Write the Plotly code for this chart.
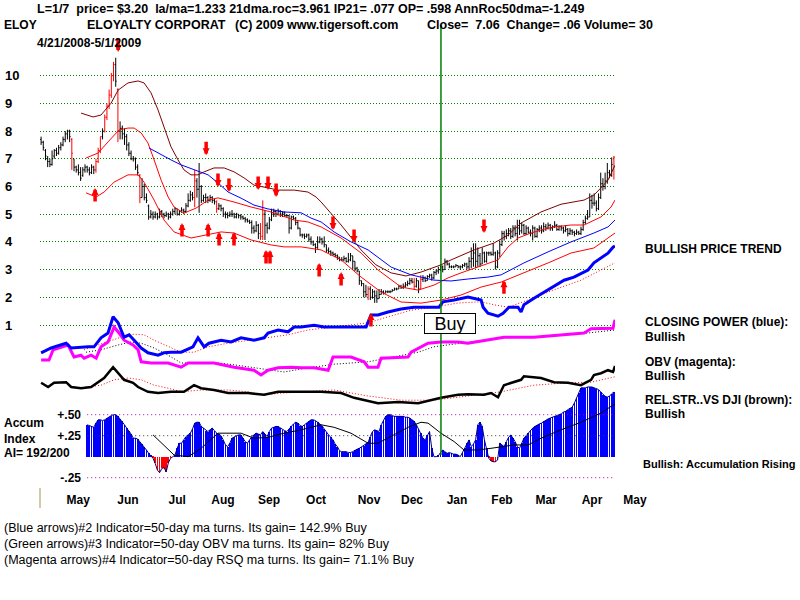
import plotly.graph_objects as go

# ---------------- DATA ----------------
# daily price bars, trading-day index 0 = 4/21/2008 ... last = 5/1/2009
opens = [7.7,7.6,7.3,7.0,6.9,6.8,7.1,7.3,7.2,7.4,
         7.5,7.7,7.9,8.0,7.7,7.0,6.7,6.6,6.5,6.4,
         6.6,6.7,6.6,6.5,6.7,6.6,6.9,7.3,7.8,8.0,
         8.5,8.9,9.3,10.0,10.4,9.5,8.0,8.1,7.9,7.8,
         7.5,7.2,7.0,7.0,6.7,6.4,5.6,6.0,5.6,5.3,
         4.9,5.0,4.9,5.0,4.9,5.1,5.0,4.95,5.0,4.9,
         5.0,5.1,5.2,5.0,5.1,5.15,5.1,5.3,5.5,5.7,
         5.6,6.2,5.9,6.0,5.5,5.6,5.6,5.5,5.6,5.5,
         5.45,5.2,5.3,5.2,5.0,5.0,4.95,5.0,5.0,4.9,
         5.0,4.95,4.9,4.85,4.8,4.75,4.7,4.5,4.4,4.6,
         4.3,4.2,5.0,4.6,4.5,4.8,5.0,5.1,5.0,5.1,
         5.0,5.05,4.95,4.95,4.5,4.9,4.85,4.7,4.5,4.25,
         4.25,4.2,4.25,4.1,4.0,3.9,3.8,4.0,4.1,4.0,
         3.9,3.7,3.65,3.6,3.55,3.5,3.45,3.35,3.35,3.4,
         3.3,3.35,3.5,3.3,3.05,2.95,2.6,2.5,2.2,2.1,
         2.3,2.0,2.2,2.05,1.95,2.1,2.2,2.15,2.2,2.2,
         2.2,2.25,2.3,2.3,2.4,2.35,2.4,2.45,2.5,2.6,
         2.55,2.4,2.6,2.3,2.65,2.7,2.6,2.75,2.8,2.7,
         2.9,2.95,3.0,3.1,3.0,3.3,3.2,3.1,3.1,3.1,
         3.15,3.1,3.1,3.15,3.2,3.1,3.3,3.4,3.6,3.3,
         3.5,3.2,3.6,3.3,3.6,3.6,3.55,3.6,3.1,3.6,
         3.9,4.3,4.2,4.3,4.4,4.2,4.5,4.3,4.5,4.4,
         4.6,4.3,4.5,4.35,4.3,4.5,4.2,4.45,4.5,4.4,
         4.55,4.5,4.6,4.5,4.55,4.6,4.45,4.55,4.5,4.4,
         4.45,4.3,4.4,4.35,4.3,4.35,4.3,4.45,4.7,4.85,
         4.9,5.5,5.4,5.4,5.2,5.6,6.1,6.0,6.2,6.5,
         6.4,7.0]
highs = [7.8,7.65,7.35,7.1,7.0,7.3,7.35,7.4,7.5,7.6,
         7.8,8.0,8.05,8.05,7.75,7.0,6.75,6.8,6.7,6.7,
         6.8,6.75,6.7,6.8,6.75,7.0,7.4,7.8,8.1,8.6,
         9.0,9.5,10.1,10.5,10.65,9.55,8.35,8.2,8.1,7.9,
         7.6,7.3,7.1,7.05,6.8,6.45,6.3,6.1,5.75,5.35,
         5.15,5.1,5.1,5.05,5.2,5.15,5.05,5.1,5.05,5.1,
         5.2,5.25,5.2,5.15,5.25,5.2,5.4,5.75,5.85,5.8,
         6.6,6.3,6.85,6.05,5.7,5.75,5.65,5.7,5.65,5.55,
         5.5,5.4,5.35,5.25,5.1,5.07,5.1,5.15,5.05,5.05,
         5.0,5.0,4.95,4.9,4.85,4.8,4.78,4.6,4.75,4.65,
         4.68,5.5,5.15,4.7,4.9,5.2,5.2,5.15,5.2,5.15,
         5.1,5.1,5.0,4.97,4.95,4.95,4.9,4.75,4.5,4.3,
         4.3,4.3,4.3,4.2,4.05,3.95,4.2,4.2,4.15,4.2,
         3.9,3.8,3.7,3.65,3.6,3.55,3.45,3.45,3.5,3.45,
         3.6,3.6,3.5,3.3,3.1,2.95,2.6,2.5,2.45,2.4,
         2.4,2.3,2.25,2.25,2.3,2.3,2.25,2.25,2.25,2.25,
         2.3,2.35,2.35,2.45,2.45,2.5,2.55,2.6,2.7,2.7,
         2.7,2.7,2.6,2.8,2.8,2.75,2.8,2.85,2.85,2.95,
         3.0,3.1,3.2,3.15,3.4,3.35,3.25,3.15,3.15,3.2,
         3.15,3.15,3.2,3.25,3.25,3.45,3.8,3.95,3.95,3.8,
         3.6,3.8,3.65,3.65,3.65,3.65,3.95,3.65,3.7,4.05,
         4.4,4.4,4.45,4.5,4.5,4.6,4.6,4.8,4.8,4.7,
         4.65,4.6,4.55,4.45,4.6,4.55,4.5,4.6,4.6,4.7,
         4.65,4.7,4.65,4.6,4.75,4.65,4.6,4.6,4.55,4.6,
         4.5,4.5,4.45,4.4,4.45,4.4,4.55,4.8,4.95,5.15,
         5.75,5.7,5.75,5.5,5.75,6.5,6.3,6.5,6.85,6.6,
         7.05,7.1]
lows = [7.5,7.3,6.95,6.7,6.7,6.75,7.0,7.1,7.15,7.3,
        7.45,7.6,7.7,7.6,6.6,6.55,6.5,6.4,6.2,6.35,
        6.5,6.5,6.4,6.45,6.45,6.5,6.85,7.2,7.7,7.95,
        8.4,8.8,9.2,9.8,9.6,7.6,7.7,7.7,7.5,7.3,
        7.1,6.95,6.9,6.6,6.4,5.4,5.6,5.5,5.4,4.8,
        4.85,4.8,4.85,4.8,4.85,4.9,4.85,4.9,4.8,4.85,
        4.95,5.0,4.95,4.95,5.05,5.0,5.05,5.25,5.45,5.5,
        5.25,5.6,5.05,5.4,5.45,5.4,5.4,5.45,5.4,5.35,
        5.05,5.15,5.1,4.9,4.85,4.85,4.9,4.9,4.85,4.85,
        4.85,4.8,4.8,4.7,4.7,4.65,4.3,4.3,4.35,4.1,
        4.07,4.07,4.07,4.3,4.45,4.75,4.9,4.9,4.95,4.9,
        4.9,4.9,4.9,4.3,4.45,4.8,4.6,4.45,4.2,4.15,
        4.1,4.15,4.0,3.9,3.85,3.6,3.75,3.95,3.9,3.8,
        3.6,3.6,3.5,3.5,3.45,3.35,3.3,3.3,3.3,3.25,
        3.25,3.3,3.0,2.95,2.9,2.45,2.4,2.0,2.0,1.9,
        1.9,1.95,1.8,1.8,1.95,2.1,2.1,2.15,2.15,2.15,
        2.2,2.25,2.25,2.3,2.3,2.3,2.35,2.4,2.45,2.5,
        2.3,2.35,2.15,2.3,2.55,2.55,2.6,2.7,2.6,2.65,
        2.8,2.85,2.95,2.9,3.0,3.15,3.05,3.05,3.05,3.1,
        3.05,3.0,3.05,3.1,3.0,3.0,3.05,3.1,3.05,3.1,
        3.1,3.2,3.25,3.25,3.5,3.5,3.5,3.0,3.05,3.45,
        3.85,4.05,4.1,4.2,4.1,4.15,4.2,4.05,4.25,4.3,
        4.25,4.25,4.3,4.2,4.05,4.15,4.15,4.35,4.3,4.35,
        4.4,4.45,4.4,4.4,4.5,4.4,4.4,4.4,4.3,4.35,
        4.2,4.25,4.25,4.2,4.25,4.25,4.25,4.4,4.65,4.8,
        4.9,5.2,5.3,5.1,5.15,5.55,5.85,5.9,6.1,6.3,
        6.35,6.25]
closes = [7.6,7.4,7.1,6.9,6.8,7.0,7.3,7.2,7.4,7.5,
          7.7,7.9,8.0,7.8,7.2,6.7,6.6,6.5,6.3,6.6,
          6.7,6.6,6.5,6.7,6.6,6.9,7.3,7.8,8.0,8.5,
          8.9,9.3,10.0,10.4,9.8,8.0,8.1,7.9,7.8,7.5,
          7.2,7.0,7.0,6.7,6.5,5.6,6.0,5.6,5.5,4.9,
          5.0,4.9,5.0,4.9,5.1,5.0,4.95,5.0,4.9,5.0,
          5.1,5.2,5.0,5.1,5.15,5.1,5.3,5.5,5.7,5.6,
          6.2,5.9,6.0,5.5,5.6,5.6,5.5,5.6,5.5,5.45,
          5.2,5.3,5.2,5.0,5.0,4.95,5.0,5.0,4.9,5.0,
          4.95,4.9,4.85,4.8,4.75,4.7,4.5,4.4,4.6,4.3,
          4.2,5.0,4.6,4.5,4.8,5.0,5.1,5.0,5.1,5.0,
          5.05,4.95,4.95,4.5,4.9,4.85,4.7,4.5,4.25,4.25,
          4.2,4.25,4.1,4.0,3.9,3.8,4.0,4.1,4.0,3.9,
          3.7,3.65,3.6,3.55,3.5,3.45,3.35,3.35,3.4,3.3,
          3.35,3.5,3.3,3.05,2.95,2.6,2.5,2.2,2.1,2.3,
          2.0,2.2,2.05,1.95,2.1,2.2,2.15,2.2,2.2,2.2,
          2.25,2.3,2.3,2.4,2.35,2.4,2.45,2.5,2.6,2.55,
          2.4,2.6,2.3,2.65,2.7,2.6,2.75,2.8,2.7,2.9,
          2.95,3.0,3.1,3.0,3.3,3.2,3.1,3.1,3.1,3.15,
          3.1,3.1,3.15,3.2,3.1,3.3,3.4,3.6,3.3,3.5,
          3.2,3.6,3.3,3.6,3.6,3.55,3.6,3.1,3.6,3.9,
          4.3,4.2,4.3,4.4,4.2,4.5,4.3,4.5,4.4,4.6,
          4.3,4.5,4.35,4.3,4.5,4.2,4.45,4.5,4.4,4.55,
          4.5,4.6,4.5,4.55,4.6,4.45,4.55,4.5,4.4,4.45,
          4.3,4.4,4.35,4.3,4.35,4.3,4.45,4.7,4.85,4.9,
          5.5,5.4,5.4,5.2,5.6,6.1,6.0,6.2,6.5,6.4,
          6.8,7.06]
red_bar_days = [14,25,26,27,29,30,31,32,33,35,45,70,80,100,101,149,170,173,261]

# price bands (day index, price)
upper_band_days = [18.2,23.7,27.3,31.9,35.1,39.6,44.2,46.9,50.1,53.3,56.0,59.2,62.4,65.1,68.3,71.5,74.3,78.8,83.4,87.9,
                   92.5,97.0,103.4,108.0,115.3,121.6,125.3,127.6,136.7,145.8,152.6,159.5,166.3,173.1,182.2,186.8,197.3,206.4,212.8,218.7,
                   227.8,236.9,247.4,251.9,255.1,258.3,261.5]
upper_band_vals = [8.65,8.51,8.58,9.01,9.48,9.74,9.81,9.74,9.38,8.76,8.15,7.43,6.96,6.60,6.42,6.42,6.53,6.67,6.67,6.53,
                   6.31,6.05,5.95,5.87,5.87,5.80,5.62,5.44,4.61,3.71,3.17,2.88,2.77,2.91,3.17,3.35,3.71,3.96,4.25,4.68,
                   5.08,5.36,5.51,5.69,5.95,6.23,6.77]
mid_upper_days = [20.5,26.0,30.5,35.5,39.6,42.4,45.6,48.7,51.5,54.7,57.9,60.6,65.1,70.6,76.1,80.6,87.9,95.7,104.8,115.3,
                  121.6,127.6,136.7,145.8,153.5,164.0,171.8,179.0,185.4,191.3,201.8,208.2,212.8,217.3,223.2,227.8,233.7,241.5,247.4,250.6,
                  255.1,259.7,261.5]
mid_upper_vals = [7.03,7.21,7.61,8.04,8.11,8.11,7.93,7.57,6.96,6.23,5.62,5.26,5.04,5.22,5.51,5.59,5.44,5.26,5.08,4.79,
                  4.72,4.54,4.14,3.60,2.99,2.37,2.26,2.44,2.70,2.88,3.17,3.35,3.82,4.14,4.32,4.43,4.54,4.61,4.61,4.72,
                  4.90,5.26,5.51]
ma50_days = [49.2,54.7,59.2,63.8,69.7,76.1,80.6,85.2,91.1,97.0,103.4,110.7,118.5,123.0,127.6,133.5,141.2,149.0,159.5,168.6,
             179.0,186.8,194.5,203.6,209.6,220.0,231.0,241.5,251.9,258.3,261.5]
ma50_vals = [7.39,7.14,6.96,6.78,6.60,6.42,6.13,5.80,5.58,5.33,5.19,5.08,5.05,4.86,4.72,4.36,4.00,3.71,3.09,2.81,
             2.62,2.59,2.66,2.73,2.81,3.24,3.64,4.00,4.32,4.54,4.79]
lower_band_days = [20.5,25.1,28.7,33.3,39.6,44.2,46.9,51.5,56.0,60.6,68.3,76.1,82.0,87.9,95.7,104.8,110.7,118.5,127.6,136.7,
                   145.8,154.9,164.0,173.1,182.2,191.3,200.5,209.6,220.0,231.0,241.5,251.9,258.3,261.5]
lower_band_vals = [5.77,5.62,5.80,6.16,6.42,6.42,6.16,5.51,4.79,4.36,4.14,4.25,4.36,4.32,4.07,3.89,3.82,3.82,3.71,3.35,
                   2.73,2.19,1.83,1.79,1.90,2.08,2.37,2.55,2.88,3.24,3.60,3.78,4.14,4.32]

# signal arrows (day index, price at arrow tip)
down_arrow_days = [35.1,75.2,80.6,85.6,98.9,103.4,107.1,133.0,142.6,201.8]
down_arrow_prices = [10.86,7.13,5.98,5.80,5.87,5.87,5.62,4.43,3.96,4.32]
up_arrow_days = [24.6,64.2,76.1,81.1,87.9,102.5,104.3,126.7,136.7,150.3,210.9]
up_arrow_prices = [5.95,4.68,4.68,4.36,4.36,3.71,3.71,3.24,2.91,1.43,2.62]
buy_day = 182.2

# indicator lines (arbitrary indicator units)
cp_days = [0,4.6,11.4,13.7,21.4,24.1,27.3,30.5,32.8,35.1,37.8,40.1,42.4,45.6,48.7,53.3,56.0,59.2,63.8,69.2,
           71.5,72.9,74.3,76.5,82.0,86.6,91.1,97.0,101.6,103.4,108.0,112.5,115.3,118.5,124.4,128.9,133.5,138.0,142.6,148.1,
           150.3,153.5,158.1,164.0,169.9,179.0,181.3,183.1,188.2,194.5,197.3,200.5,201.4,203.6,208.2,210.5,213.2,217.3,218.7,220.0,
           224.6,231.0,238.3,242.8,249.2,251.9,258.3,260.6,261.5]
cp_vals = [41.2,42.0,42.8,42.0,42.2,42.2,43.7,44.5,47.2,46.2,43.8,44.2,43.3,42.0,41.2,40.8,41.2,41.3,41.3,42.2,
           43.7,43.0,42.2,42.8,43.3,43.0,43.7,43.3,43.7,44.5,45.0,44.7,45.5,45.5,45.8,45.5,45.5,45.5,45.5,45.5,
           47.5,47.5,48.0,48.5,48.8,48.8,48.8,49.7,50.0,50.5,50.3,50.0,48.8,47.8,47.3,47.8,48.8,48.8,48.0,49.2,
           50.3,51.7,53.3,53.8,55.0,56.2,57.8,58.8,59.0]
cp_ma_days = [19.6,31.9,36.4,42.4,46.9,51.5,57.9,63.8,69.7,76.1,85.2,94.3,103.4,112.5,121.6,133.5,149.0,158.1,168.6,179.0,
              190.0,200.5,206.4,212.8,221.9,233.7,246.0,255.1,261.5]
cp_ma_vals = [41.7,43.3,43.8,44.3,44.2,43.3,42.2,41.3,41.3,42.2,42.8,43.3,43.7,44.2,45.0,45.5,46.2,47.2,48.3,48.8,
              49.5,49.7,49.2,48.8,50.0,51.7,53.3,55.0,56.2]
obv_days = [0,3.6,5.5,12.3,15.0,18.2,19.6,22.8,25.1,27.3,30.5,33.3,35.5,37.8,41.9,44.2,45.6,50.1,57.9,63.8,
            67.0,72.9,78.8,87.9,97.0,100.2,103.4,108.0,113.9,118.5,124.4,130.8,133.0,141.2,147.2,149.0,153.5,154.9,167.2,168.6,
            176.3,182.2,190.0,194.5,203.6,210.9,224.6,240.1,247.4,250.6,260.6,261.5]
obv_vals = [40.0,40.0,41.7,42.5,40.5,40.8,40.3,40.8,40.3,42.2,43.0,45.5,44.5,43.3,42.5,41.7,39.7,39.5,39.5,38.8,
            39.5,39.5,39.5,38.8,38.3,37.5,38.3,38.7,38.8,38.7,38.7,38.3,40.5,40.5,39.7,38.8,38.8,40.3,40.5,41.3,
            42.8,43.0,43.0,42.8,43.3,43.8,43.8,44.2,44.5,45.2,45.3,46.7]
obv_ma_days = [20.5,27.3,35.1,41.0,45.6,51.5,57.9,63.8,72.9,80.6,87.9,95.7,103.4,110.7,118.5,133.5,149.0,164.0,171.8,179.0,
               194.5,209.6,224.6,240.1,249.2,261.5]
obv_ma_vals = [41.3,41.7,42.5,43.0,42.8,42.0,40.8,39.5,39.5,39.5,39.2,38.8,38.3,38.0,38.5,39.3,39.7,40.8,41.3,42.2,
               43.0,43.7,43.8,44.2,44.5,45.0]
rs_days = [0,3.2,5.9,11.4,13.7,18.2,22.8,26.0,28.7,32.8,35.1,37.8,41.9,44.2,48.7,53.3,59.2,65.1,69.7,72.9,
           78.8,85.2,94.3,101.6,108.0,115.3,121.6,127.6,136.7,142.6,153.5,162.6,171.8,182.2,190.0,194.5,201.8,205.0,208.2,210.9,
           218.7,220.0,227.8,233.7,240.1,246.0,250.6,251.9,255.1,258.3,260.6,261.5]
rs_vals = [36.2,35.5,36.2,36.3,35.5,35.3,35.5,36.3,37.0,38.8,37.8,36.7,36.2,35.5,34.7,34.5,34.7,34.7,35.8,35.3,
           35.0,34.5,34.5,34.2,34.7,34.7,34.8,34.7,34.5,33.7,32.8,33.0,32.8,33.7,34.2,34.3,34.2,34.5,33.8,35.8,
           36.7,37.3,37.0,36.3,36.2,35.8,36.7,37.5,37.8,38.3,38.0,39.0]
rs_ma_days = [20.5,27.3,33.3,39.6,45.6,51.5,57.9,63.8,72.9,85.2,94.3,101.6,110.7,121.6,133.5,149.0,164.0,179.0,190.0,199.1,
              209.6,224.6,240.1,250.6,261.5]
rs_ma_vals = [35.5,35.8,36.7,37.0,36.7,35.8,35.3,34.7,35.0,35.0,34.7,34.2,34.5,34.7,35.0,34.0,33.3,33.3,33.8,34.2,
              34.7,35.8,36.2,36.3,37.2]

# accumulation index, daily from day 21
accum_first_day = 21
accum_vals = [.38,.37,.36,.35,.40,.44,.44,.43,.44,.46,
              .47,.49,.50,.50,.48,.45,.42,.38,.34,.31,
              .27,.22,.22,.21,.18,.15,.12,.08,.04,.01,
              -.02,-.08,-.16,-.19,-.14,-.13,-.18,-.07,-.02,.00,
              .02,.10,.16,.16,.20,.24,.26,.28,.33,.40,
              .41,.41,.36,.34,.31,.30,.32,.34,.31,.28,
              .27,.25,.20,.14,.12,.16,.22,.24,.25,.26,
              .26,.22,.18,.16,.20,.24,.26,.28,.27,.26,
              .30,.27,.24,.30,.34,.35,.36,.36,.34,.32,
              .31,.30,.33,.37,.39,.41,.40,.37,.36,.38,
              .40,.42,.44,.44,.43,.41,.39,.37,.33,.29,
              .26,.23,.20,.15,.12,.07,.06,.06,.06,.05,
              .05,.06,.08,.09,.10,.12,.13,.15,.17,.24,
              .30,.32,.31,.30,.38,.44,.48,.50,.50,.49,
              .48,.48,.48,.48,.48,.47,.47,.46,.44,.42,
              .38,.33,.28,.22,.20,.26,.30,.10,.00,.00,
              .01,.05,.08,.06,.04,.05,.04,.03,.03,.02,
              .00,.05,.10,.16,.20,.12,.15,.20,.38,.41,
              .36,.20,.10,-.02,-.05,-.06,-.06,-.04,.16,.14,
              .12,.18,.23,.26,.22,.18,.12,.10,.16,.22,
              .25,.28,.32,.34,.36,.38,.39,.40,.42,.44,
              .45,.46,.47,.48,.49,.50,.51,.53,.54,.56,
              .58,.59,.64,.70,.76,.82,.82,.82,.83,.83,
              .83,.82,.81,.80,.77,.74,.72,.71,.72,.75,
              .77]
accum_ma_days = [51.0,60.6,67.0,72.9,80.6,91.1,97.0,103.4,110.7,118.5,127.6,133.5,141.2,149.0,153.5,159.5,167.2,173.1,176.3,182.2,
                 188.2,192.7,199.1,205.0,209.6,215.5,221.9,227.8,236.9,246.0,255.1,261.5]
accum_ma_vals = [0.26,0.02,0.00,0.10,0.28,0.28,0.22,0.23,0.28,0.32,0.38,0.35,0.28,0.16,0.16,0.24,0.35,0.41,0.40,0.28,
                 0.18,0.08,0.08,0.10,0.12,0.14,0.14,0.22,0.32,0.41,0.52,0.63]
accum_levels = [0.50, 0.25, -0.25]
accum_level_labels = ["+.50", "+.25", "-.25"]
accum_level_colors = ["#B000B0", "#333333", "#B000B0"]

price_ticks = [1, 2, 3, 4, 5, 6, 7, 8, 9, 10]
month_ticks = [16.9, 39.6, 62.0, 82.9, 103.9, 125.3, 149.4, 169.0, 189.5, 210.0, 230.1, 251.0, 270.6]
month_labels = ["May", "Jun", "Jul", "Aug", "Sep", "Oct", "Nov", "Dec", "Jan", "Feb", "Mar", "Apr", "May"]

# ---------------- FIGURE ----------------
W, H = 800, 600
N = len(closes)
days = list(range(N))
FONT = "Liberation Sans, Arial, sans-serif"
RED = "#FF0000"

fig = go.Figure()


def ohlc(sel, color):
    return go.Ohlc(x=[days[i] for i in sel], open=[opens[i] for i in sel], high=[highs[i] for i in sel],
                   low=[lows[i] for i in sel], close=[closes[i] for i in sel],
                   increasing=dict(line=dict(color=color, width=1)),
                   decreasing=dict(line=dict(color=color, width=1)),
                   tickwidth=0.45, xaxis="x", yaxis="y", hoverinfo="skip", showlegend=False)


def line(xs, ys, color, width=1, dash=None, yaxis="y"):
    return go.Scatter(x=xs, y=ys, mode="lines", line=dict(color=color, width=width, dash=dash),
                      xaxis="x", yaxis=yaxis, hoverinfo="skip", showlegend=False)


black_sel = [i for i in days if i not in red_bar_days]
fig.add_trace(ohlc(black_sel, "black"))
fig.add_trace(ohlc(red_bar_days, RED))

fig.add_trace(line(upper_band_days, upper_band_vals, "#800000"))
fig.add_trace(line(mid_upper_days, mid_upper_vals, RED))
fig.add_trace(line(ma50_days, ma50_vals, "#0000FF"))
fig.add_trace(line(lower_band_days, lower_band_vals, RED))

# accumulation panel
accum_days = list(range(accum_first_day, accum_first_day + len(accum_vals)))
for lev, col in zip(accum_levels, accum_level_colors):
    fig.add_trace(line([accum_days[0], accum_days[-1]], [lev, lev], col, 1, "1px,3px", "y2"))
fig.add_trace(go.Bar(x=accum_days, y=accum_vals, width=0.36,
                     marker=dict(color=["#0000FF" if v >= 0 else RED for v in accum_vals], line=dict(width=0)),
                     xaxis="x", yaxis="y2", hoverinfo="skip", showlegend=False))
fig.add_trace(line(accum_days, accum_vals, "#000080", 1, None, "y2"))
fig.add_trace(line(accum_ma_days, accum_ma_vals, "black", 1, None, "y2"))

# indicator lines
fig.add_trace(line(cp_ma_days, cp_ma_vals, RED, 1, "1px,2px", "y3"))
fig.add_trace(line(obv_ma_days, obv_ma_vals, "black", 1, "1px,2px", "y3"))
fig.add_trace(line(rs_ma_days, rs_ma_vals, RED, 1, "1px,2px", "y3"))
fig.add_trace(line(rs_days, rs_vals, "black", 2.5, None, "y3"))
fig.add_trace(line(obv_days, obv_vals, "#FF00FF", 3, None, "y3"))
fig.add_trace(line(cp_days, cp_vals, "#0000FF", 3, None, "y3"))

# carrier for month axis
fig.add_trace(go.Scatter(x=month_ticks, y=[None] * len(month_ticks), mode="markers",
                         xaxis="x2", yaxis="y3", hoverinfo="skip", showlegend=False))

annotations = []
for d, p in zip(down_arrow_days, down_arrow_prices):
    annotations.append(dict(x=d, y=p, xref="x", yref="y", text="", showarrow=True, ax=0, ay=-15,
                            arrowhead=2, arrowsize=0.4, arrowwidth=3.5, arrowcolor=RED))
for d, p in zip(up_arrow_days, up_arrow_prices):
    annotations.append(dict(x=d, y=p, xref="x", yref="y", text="", showarrow=True, ax=0, ay=15,
                            arrowhead=2, arrowsize=0.4, arrowwidth=3.5, arrowcolor=RED))


def txt(xp, yp, s, size=12, bold=True):
    annotations.append(dict(x=xp / W, y=1 - yp / H, xref="paper", yref="paper", xanchor="left", yanchor="middle",
                            text=("<b>%s</b>" % s) if bold else s, showarrow=False,
                            font=dict(family=FONT, size=size, color="black")))


NB = "\u00a0"
txt(35, 9, "L=1/7 " + NB + "price= $3.20 " + NB + "la/ma=1.233 21dma.roc=3.961 IP21= .077 OP= .598 AnnRoc50dma=-1.249", 12.5)
txt(2, 25, "ELOY")
txt(85, 25, "ELOYALTY CORPORAT", 12.5)
txt(233, 25, "(C) 2009 www.tigersoft.com", 12.5)
txt(425, 25, "Close= " + NB + "7.06 " + NB + "Change= .06 Volume= 30", 12.5)
txt(35, 43, "4/21/2008-5/1/2009")
txt(643, 249, "BULLISH PRICE TREND")
txt(643, 322, "CLOSING POWER (blue):")
txt(643, 337, "Bullish")
txt(643, 362, "OBV (magenta):")
txt(643, 376, "Bullish")
txt(643, 400, "REL.STR..VS DJI (brown):")
txt(643, 414, "Bullish")
txt(641, 464, "Bullish: Accumulation Rising", 11)
txt(2, 423, "Accum")
txt(2, 439, "Index")
txt(2, 453, "AI= 192/200")
txt(2, 528, "(Blue arrows)#2 Indicator=50-day ma turns. Its gain= 142.9% Buy", 12.5, False)
txt(2, 544, "(Green arrows)#3 Indicator=50-day OBV ma turns. Its gain= 82% Buy", 12.5, False)
txt(2, 560, "(Magenta arrows)#4 Indicator=50-day RSQ ma turns. Its gain= 71.1% Buy", 12.5, False)

annotations.append(dict(x=buy_day, xref="x", xshift=9, y=1 - 323 / H, yref="paper", text="Buy", showarrow=False,
                        font=dict(family=FONT, size=18, color="black"), bgcolor="white", bordercolor="black",
                        borderwidth=1, borderpad=0, width=50, height=19))

shapes = [
    dict(type="line", xref="x", yref="paper", x0=buy_day, x1=buy_day, y0=1 - 455 / H, y1=1 - 25 / H,
         line=dict(color="#008000", width=1.5)),
    dict(type="line", xref="x domain", yref="paper", x0=0, x1=0, y0=1 - 508 / H, y1=1 - 488 / H,
         line=dict(color="#A09850", width=1)),
]

price_px0, price_ppu = 352.7, 27.7  # layout: pixel of price 0, pixels per dollar
fig.update_layout(
    width=W, height=H, margin=dict(l=0, r=0, t=0, b=0), paper_bgcolor="white", plot_bgcolor="rgba(0,0,0,0)",
    showlegend=False, bargap=0, annotations=annotations, shapes=shapes,
    xaxis=dict(domain=[40 / W, 615 / W], range=[-0.5, N - 0.5], showticklabels=False, showgrid=False,
               zeroline=False, showline=False, ticks="", rangeslider=dict(visible=False)),
    xaxis2=dict(domain=[40 / W, 660 / W], range=[-0.5, -0.5 + N * 620 / 575], anchor="free", position=1 - 491 / H,
                side="bottom", tickvals=month_ticks, ticktext=month_labels, ticks="", showgrid=False,
                zeroline=False, showline=False, tickfont=dict(family=FONT, size=12, color="black", weight="bold")),
    yaxis=dict(domain=[1 - price_px0 / H, 1 - 30 / H], range=[0, (price_px0 - 30) / price_ppu],
               anchor="free", position=0, side="right", tickvals=price_ticks, ticktext=[str(t) for t in price_ticks],
               ticks="", ticklabelstandoff=4, showgrid=True, gridcolor="#008000", griddash="1px,2px", gridwidth=1,
               zeroline=False, showline=False, tickfont=dict(family=FONT, size=13, color="black", weight="bold")),
    yaxis2=dict(domain=[1 - 490 / H, 1 - 381 / H], range=[-0.3964, 0.9012], anchor="free", position=85 / W,
                side="left", tickvals=accum_levels, ticktext=accum_level_labels, ticks="", ticklabelstandoff=4,
                showgrid=False, zeroline=False, showline=False,
                tickfont=dict(family=FONT, size=12, color="black", weight="bold")),
    yaxis3=dict(domain=[0, 1], range=[0, 100], visible=False),
)

fig.write_html("out.html")
